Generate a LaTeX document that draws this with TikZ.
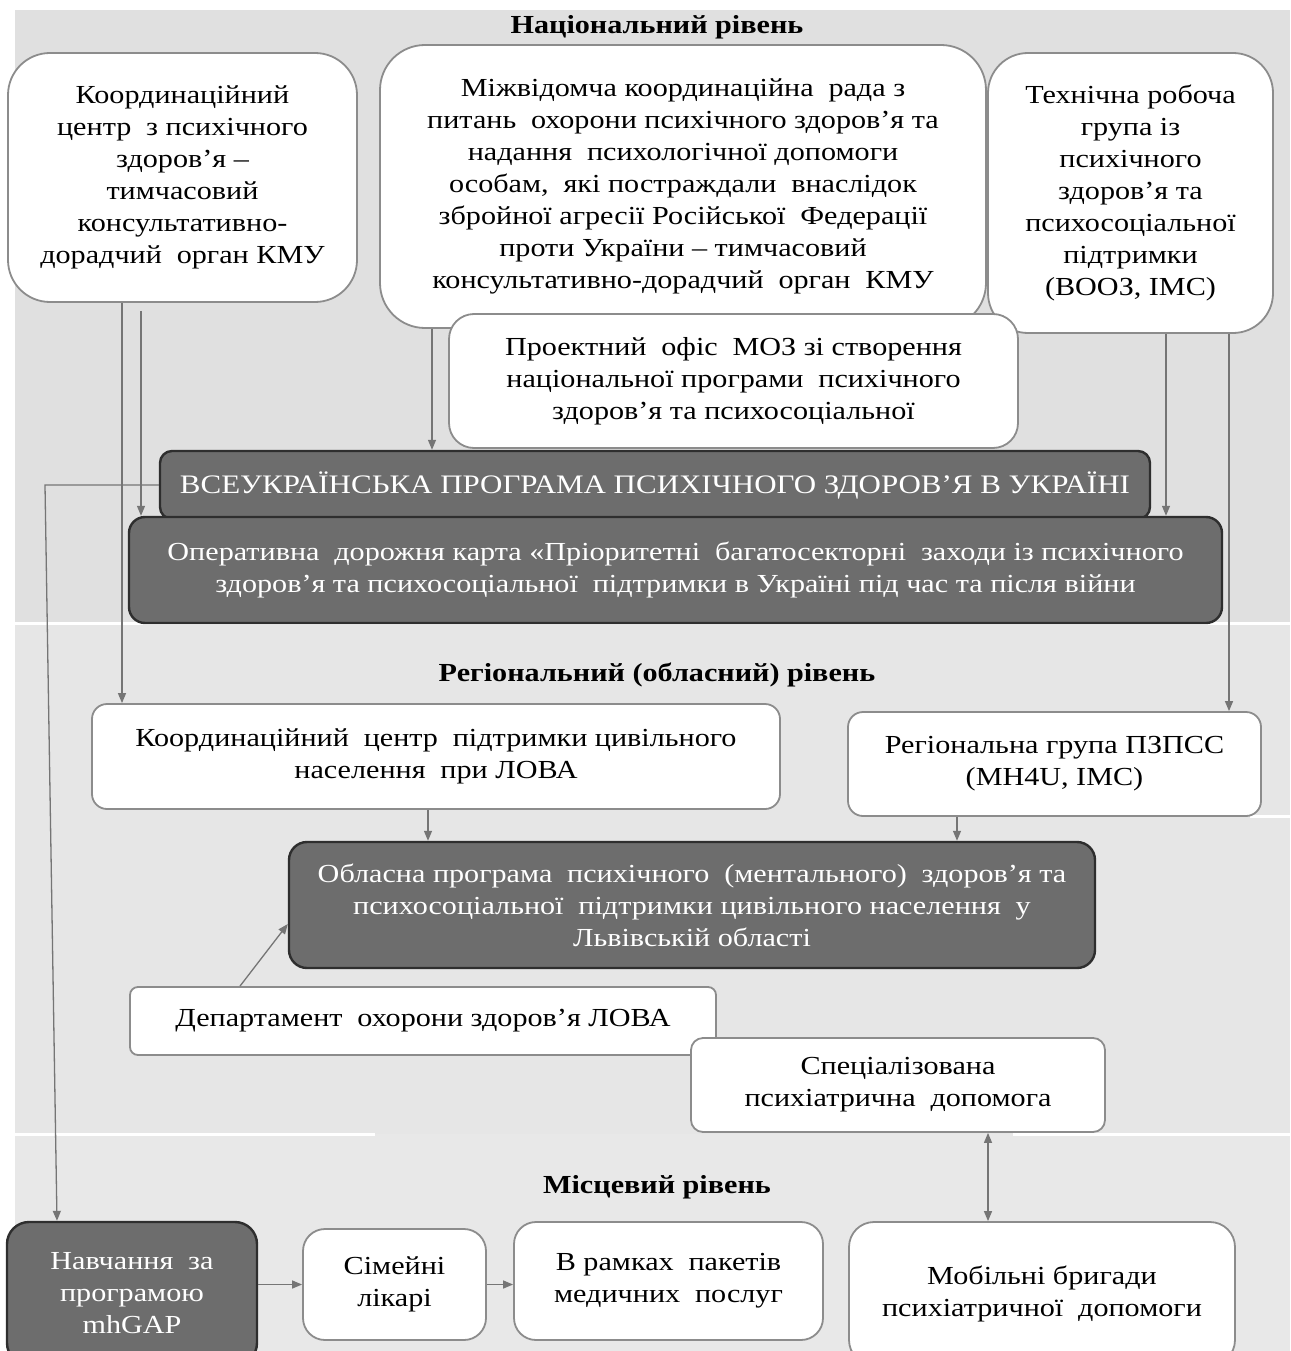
\documentclass[tikz,border=0pt]{standalone}
\usepackage{fontspec}
\setmainfont{Liberation Serif}[FakeStretch=1.16]
\usetikzlibrary{arrows.meta,calc}
\newcommand\dblsp{\hspace{0.28em}}
\definecolor{bgnat}{HTML}{E0E0E0}
\definecolor{bgreg}{HTML}{E6E6E6}
\definecolor{bgloc}{HTML}{E8E8E8}
\definecolor{wborder}{HTML}{8C8C8C}
\definecolor{dfill}{HTML}{6D6D6D}
\definecolor{dborder}{HTML}{2E2E2E}
\definecolor{arrgray}{HTML}{757575}
\begin{document}
\begin{tikzpicture}[x=1pt,y=-1pt,
  txt/.style={font=\fontsize{26}{32}\selectfont},
  wbox/.style={draw=wborder, line width=1.8pt, fill=white, align=center, inner sep=0pt, txt},
  dbox/.style={draw=dborder, line width=2.4pt, fill=dfill, text=white, align=center, inner sep=0pt, txt},
  heading/.style={font=\fontsize{26}{32}\selectfont\bfseries, inner sep=0pt},
  arr/.style={draw=arrgray, line width=1.3pt, -{Triangle[length=10pt,width=8pt]}},
  sep/.style={draw=white, line width=3pt}
]
\useasboundingbox (0,0) rectangle (1290,1351);
\clip (0,0) rectangle (1290,1351);
% background bands
\fill[bgnat] (15,10) rectangle (1290,623);
\fill[bgreg] (15,623) rectangle (1290,1134);
\fill[bgloc] (15,1134) rectangle (1290,1351);
\draw[sep] (15,623) -- (1290,623);
\draw[sep] (15,1134) -- (375,1134);
\draw[sep] (1013,1134) -- (1290,1134);
\draw[sep] (1250,816) -- (1290,816);

% headings
\node[heading] (h1) at (657,27) {Національний рівень};
\node[heading] (h2) at (657,675) {Регіональний (обласний) рівень};
\node[heading] (h3) at (657,1187) {Місцевий рівень};

% national boxes
\node[wbox, minimum width=349pt, minimum height=249pt, rounded corners=42pt] (A) at (182.5,177.5)
  {Координаційний\\ центр\dblsp{} з психічного\\ здоров’я –\\ тимчасовий\\ консультативно-\\ дорадчий\dblsp{} орган КМУ};
\node[wbox, minimum width=606pt, minimum height=283pt, rounded corners=45pt] (B) at (683,186.5)
  {Міжвідомча координаційна\dblsp{} рада з\\ питань\dblsp{} охорони психічного здоров’я та\\ надання\dblsp{} психологічної допомоги\\ особам,\dblsp{} які постраждали\dblsp{} внаслідок\\ збройної агресії Російської\dblsp{} Федерації\\ проти України – тимчасовий\\ консультативно-дорадчий\dblsp{} орган\dblsp{} КМУ};
\node[wbox, minimum width=285pt, minimum height=280pt, rounded corners=40pt] (C) at (1130.5,193)
  {Технічна робоча\\ група із\\ психічного\\ здоров’я та\\ психосоціальної\\ підтримки\\ (ВООЗ, IMC)};
\node[wbox, minimum width=569pt, minimum height=134pt, rounded corners=25pt] (D) at (733.5,381)
  {Проектний\dblsp{} офіс\dblsp{} МОЗ зі створення\\ національної програми\dblsp{} психічного\\ здоров’я та психосоціальної};
\node[dbox, minimum width=990pt, minimum height=68pt, rounded corners=12pt, font=\fontsize{26.7}{32}\selectfont] (E) at (655,485)
  {ВСЕУКРАЇНСЬКА ПРОГРАМА ПСИХІЧНОГО ЗДОРОВ’Я В УКРАЇНІ};
\node[dbox, minimum width=1093pt, minimum height=106pt, rounded corners=16pt] (F) at (675.5,570)
  {Оперативна\dblsp{} дорожня карта «Пріоритетні\dblsp{} багатосекторні\dblsp{} заходи із психічного\\ здоров’я та психосоціальної\dblsp{} підтримки в Україні під час та після війни};

% regional boxes
\node[wbox, minimum width=688pt, minimum height=105pt, rounded corners=15pt] (G) at (436,756.5)
  {Координаційний\dblsp{} центр\dblsp{} підтримки цивільного\\ населення\dblsp{} при ЛОВА};
\node[wbox, minimum width=413pt, minimum height=104pt, rounded corners=15pt] (H) at (1054.5,764)
  {Регіональна група ПЗПСС\\ (MH4U, IMC)};
\node[dbox, minimum width=806pt, minimum height=126pt, rounded corners=18pt] (I) at (692,905)
  {Обласна програма\dblsp{} психічного\dblsp{} (ментального)\dblsp{} здоров’я та\\ психосоціальної\dblsp{} підтримки цивільного населення\dblsp{} у\\ Львівській області};
\node[wbox, minimum width=586pt, minimum height=68pt, rounded corners=8pt] (J) at (423,1021)
  {Департамент\dblsp{} охорони здоров’я ЛОВА};
\node[wbox, minimum width=414pt, minimum height=94pt, rounded corners=12pt] (K) at (898,1085)
  {Спеціалізована\\ психіатрична\dblsp{} допомога};

% local boxes
\node[dbox, minimum width=250pt, minimum height=143pt, rounded corners=22pt] (L) at (132,1293.5)
  {Навчання\dblsp{} за\\ програмою\\ mhGAP};
\node[wbox, minimum width=183pt, minimum height=111pt, rounded corners=22pt] (M) at (394.5,1284.5)
  {Сімейні\\ лікарі};
\node[wbox, minimum width=309pt, minimum height=118pt, rounded corners=22pt] (N) at (668.5,1281)
  {В рамках\dblsp{} пакетів\\ медичних\dblsp{} послуг};
\node[wbox, minimum width=386pt, minimum height=143pt, rounded corners=25pt] (O) at (1042,1293.5)
  {Мобільні бригади\\ психіатричної\dblsp{} допомоги};

% helper coordinates
\coordinate (x45) at (45,0);
\coordinate (x57) at (57,0);
\coordinate (x122) at (122,0);
\coordinate (x141) at (141,0);
\coordinate (x240) at (240,0);
\coordinate (x428) at (428,0);
\coordinate (x432) at (432,0);
\coordinate (x957) at (957,0);
\coordinate (x988) at (988,0);
\coordinate (x1166) at (1166,0);
\coordinate (x1229) at (1229,0);
\coordinate (y924) at (0,924);

% connectors
\draw[arr] (x122 |- A.south) -- (x122 |- G.north);
\draw[arr] ($(x141 |- A.south)+(0,8)$) -- (x141 |- F.north);
\draw[arr] (x432 |- B.south) -- (x432 |- E.north);
\draw[arr] (x1166 |- C.south) -- (x1166 |- F.north);
\draw[arr] (x1229 |- C.south) -- (x1229 |- H.north);
\draw[arr] (E.west) -- (E.west -| x45) -- (x57 |- L.north);
\draw[arr] (x428 |- G.south) -- (x428 |- I.north);
\draw[arr] (x957 |- H.south) -- (x957 |- I.north);
\draw[arr] (x240 |- J.north) -- (I.west |- y924);
\draw[arr, {Triangle[length=10pt,width=8pt]}-{Triangle[length=10pt,width=8pt]}] (x988 |- K.south) -- (x988 |- O.north);
\draw[arr] (L.east |- M.west) -- (M.west);
\draw[arr] (M.east) -- (N.west |- M.east);
\end{tikzpicture}
\end{document}
